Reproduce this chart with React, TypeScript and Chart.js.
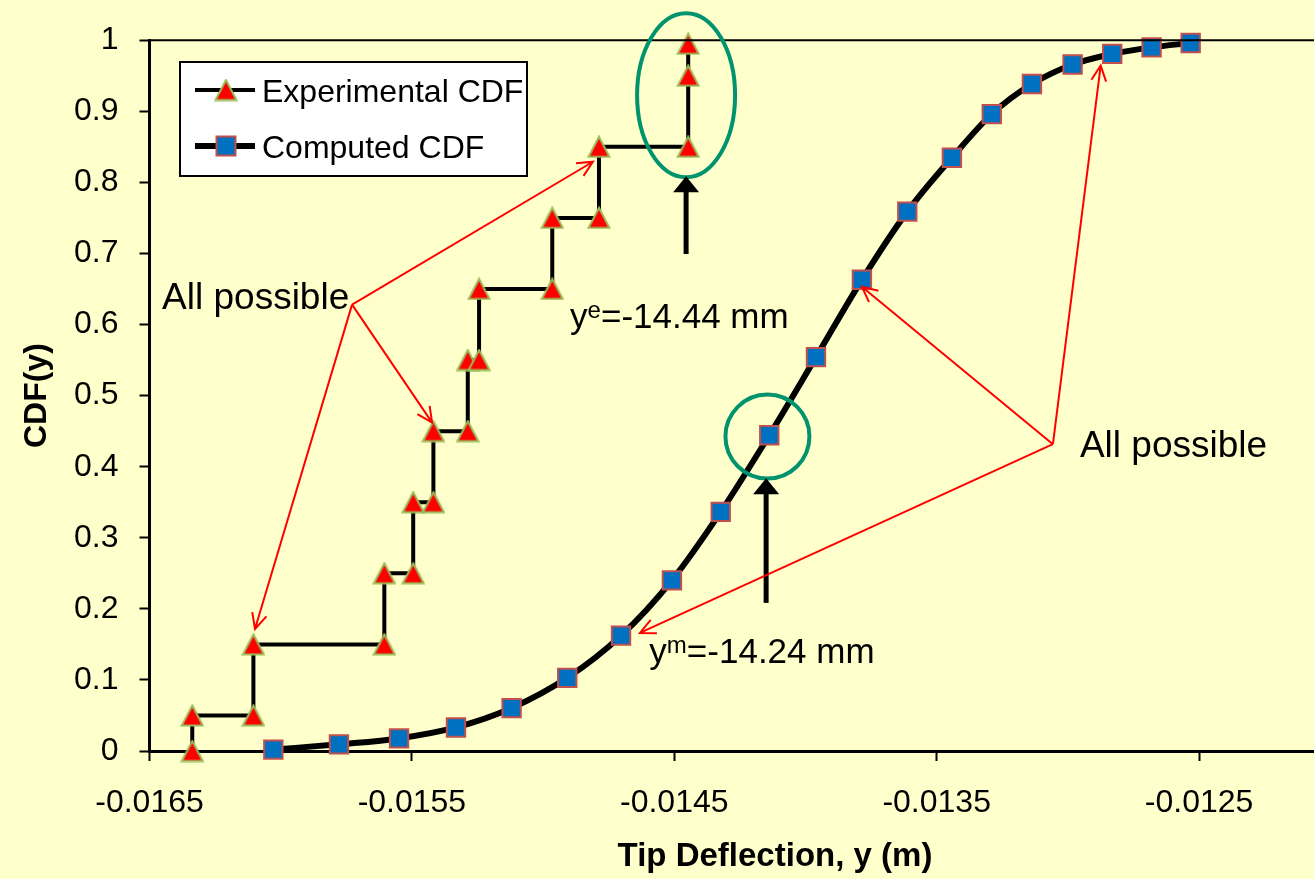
import { useEffect, useRef } from "react";
import { Chart, registerables } from "chart.js";
Chart.register(...registerables);

// ---------- data ----------
const xTicks = [-0.0165, -0.0155, -0.0145, -0.0135, -0.0125];
const yTicks = [0, 0.1, 0.2, 0.3, 0.4, 0.5, 0.6, 0.7, 0.8, 0.9, 1];
const xMin = -0.0165;
const xMax = -0.012062;
const yMin = 0;
const yMax = 1;

const seriesLabels = ["Experimental CDF", "Computed CDF"];
const xTitle = "Tip Deflection, y (m)";
const yTitle = "CDF(y)";

const expX = [
  -0.016337, -0.016337, -0.016104, -0.016104, -0.015605, -0.015605, -0.015495,
  -0.015495, -0.015418, -0.015418, -0.015287, -0.015287, -0.015244, -0.015244,
  -0.014965, -0.014965, -0.014787, -0.014787, -0.014447, -0.014447, -0.014447,
];
const expY = [
  0, 0.05, 0.05, 0.15, 0.15, 0.25, 0.25, 0.35, 0.35, 0.45, 0.45, 0.55, 0.55,
  0.65, 0.65, 0.75, 0.75, 0.85, 0.85, 0.95, 0.995,
];

const compX = [
  -0.016028, -0.015778, -0.015549, -0.015332, -0.01512, -0.014908, -0.014703,
  -0.014509, -0.014323, -0.014138, -0.01396, -0.013785, -0.013612, -0.013442,
  -0.01329, -0.013137, -0.012982, -0.012831, -0.012681, -0.012532,
];
const compY = [
  0.002, 0.0094, 0.0177, 0.0331, 0.0604, 0.1029, 0.1623, 0.2401, 0.3364,
  0.4442, 0.5541, 0.6629, 0.7588, 0.8346, 0.896, 0.9383, 0.9658, 0.9807,
  0.9899, 0.9961,
];

// ---------- annotations (data coordinates) ----------
const annoTextE = { x: -0.014897, y: 0.5946, main: "y", sup: "e", rest: "=-14.44 mm" };
const annoTextM = { x: -0.014595, y: 0.1242, main: "y", sup: "m", rest: "=-14.24 mm" };
const annoLeftLabel = { x: -0.016452, y: 0.6225, text: "All possible" };
const annoRightLabel = { x: -0.012954, y: 0.4131, text: "All possible" };
const ellipseE = { x: -0.014455, y: 0.9225 };
const circleM = { x: -0.014145, y: 0.4424 };
const arrowE = { x: -0.014455, y1: 0.6992, y2: 0.8085 };
const arrowM = { x: -0.01415, y1: 0.2084, y2: 0.3838 };
const leftAnchor = { x: -0.015728, y: 0.628 };
const leftTips = [
  { x: -0.01481, y: 0.829 },
  { x: -0.015423, y: 0.462 },
  { x: -0.016098, y: 0.1717 },
];
const rightAnchor = { x: -0.013057, y: 0.4317 };
const rightTips = [
  { x: -0.012875, y: 0.9644 },
  { x: -0.013785, y: 0.6532 },
  { x: -0.014631, y: 0.1661 },
];

const FONT = "'Liberation Sans', Arial, Helvetica, sans-serif";
const BG = "#FFFFCC";
const GREEN = "#00936E";

function makeTriangle(): HTMLCanvasElement {
  const c = document.createElement("canvas");
  c.width = 24;
  c.height = 23;
  const g = c.getContext("2d")!;
  g.beginPath();
  g.moveTo(12, 1.5);
  g.lineTo(22.5, 21.5);
  g.lineTo(1.5, 21.5);
  g.closePath();
  g.fillStyle = "#FF0000";
  g.fill();
  g.lineWidth = 2;
  g.strokeStyle = "#9BBB59";
  g.lineJoin = "miter";
  g.stroke();
  return c;
}

export default function App() {
  const ref = useRef<HTMLCanvasElement>(null);
  useEffect(() => {
    const canvas = ref.current!;
    const tri = makeTriangle();

    const overlay = {
      id: "overlay",
      afterDraw(chart: any) {
        const ctx: CanvasRenderingContext2D = chart.ctx;
        const xs = chart.scales.x;
        const ys = chart.scales.y;
        const ca = chart.chartArea;
        const px = (v: number) => xs.getPixelForValue(v);
        const py = (v: number) => ys.getPixelForValue(v);
        ctx.save();

        // top border
        ctx.strokeStyle = "#000";
        ctx.lineWidth = 2;
        ctx.beginPath();
        ctx.moveTo(ca.left, ca.top);
        ctx.lineTo(ca.right, ca.top);
        ctx.stroke();

        // legend
        ctx.fillStyle = "#FFFFFF";
        ctx.fillRect(180, 62, 347, 114);
        ctx.lineWidth = 2;
        ctx.strokeStyle = "#000";
        ctx.strokeRect(180, 62, 347, 114);
        const legY = [90, 146];
        const legW = [4, 6];
        for (let i = 0; i < 2; i++) {
          ctx.lineWidth = legW[i];
          ctx.strokeStyle = "#000";
          ctx.beginPath();
          ctx.moveTo(195, legY[i]);
          ctx.lineTo(255, legY[i]);
          ctx.stroke();
          if (i === 0) {
            ctx.drawImage(tri, 226 - tri.width / 2, legY[i] - tri.height / 2);
          } else {
            ctx.fillStyle = "#0070C0";
            ctx.fillRect(216.5, legY[i] - 9.5, 19, 19);
            ctx.lineWidth = 2;
            ctx.strokeStyle = "#C0504D";
            ctx.strokeRect(216.5, legY[i] - 9.5, 19, 19);
          }
          ctx.fillStyle = "#000";
          ctx.font = `32px ${FONT}`;
          ctx.textAlign = "left";
          ctx.textBaseline = "alphabetic";
          ctx.fillText(seriesLabels[i], 262, legY[i] + 11.5);
        }

        // green ellipse & circle
        ctx.strokeStyle = GREEN;
        ctx.lineWidth = 4;
        ctx.beginPath();
        ctx.ellipse(px(ellipseE.x), py(ellipseE.y), 49, 82, 0, 0, Math.PI * 2);
        ctx.stroke();
        ctx.beginPath();
        ctx.arc(px(circleM.x), py(circleM.y), 42, 0, Math.PI * 2);
        ctx.stroke();

        // black arrows
        const blackArrow = (x: number, y1: number, y2: number) => {
          ctx.strokeStyle = "#000";
          ctx.fillStyle = "#000";
          ctx.lineWidth = 5;
          ctx.beginPath();
          ctx.moveTo(x, y1);
          ctx.lineTo(x, y2 + 12);
          ctx.stroke();
          ctx.beginPath();
          ctx.moveTo(x, y2);
          ctx.lineTo(x + 13, y2 + 16);
          ctx.lineTo(x - 13, y2 + 16);
          ctx.closePath();
          ctx.fill();
        };
        blackArrow(px(arrowE.x), py(arrowE.y1), py(arrowE.y2));
        blackArrow(px(arrowM.x), py(arrowM.y1), py(arrowM.y2));

        // red arrows
        const redArrow = (x1: number, y1: number, x2: number, y2: number) => {
          ctx.strokeStyle = "#FF0000";
          ctx.lineWidth = 2;
          ctx.beginPath();
          ctx.moveTo(x1, y1);
          ctx.lineTo(x2, y2);
          const a = Math.atan2(y2 - y1, x2 - x1);
          const L = 17;
          const s = 0.45;
          ctx.moveTo(x2 - L * Math.cos(a - s), y2 - L * Math.sin(a - s));
          ctx.lineTo(x2, y2);
          ctx.lineTo(x2 - L * Math.cos(a + s), y2 - L * Math.sin(a + s));
          ctx.stroke();
        };
        for (const t of leftTips)
          redArrow(px(leftAnchor.x), py(leftAnchor.y), px(t.x), py(t.y));
        for (const t of rightTips)
          redArrow(px(rightAnchor.x), py(rightAnchor.y), px(t.x), py(t.y));

        // texts
        ctx.fillStyle = "#000";
        ctx.textAlign = "left";
        ctx.textBaseline = "alphabetic";
        ctx.font = `37px ${FONT}`;
        ctx.fillText(annoLeftLabel.text, px(annoLeftLabel.x), py(annoLeftLabel.y));
        ctx.fillText(annoRightLabel.text, px(annoRightLabel.x), py(annoRightLabel.y));

        const supText = (t: any) => {
          let x = px(t.x);
          const y = py(t.y);
          ctx.font = `35px ${FONT}`;
          ctx.fillText(t.main, x, y);
          x += ctx.measureText(t.main).width;
          ctx.font = `24px ${FONT}`;
          ctx.fillText(t.sup, x, y - 10);
          x += ctx.measureText(t.sup).width;
          ctx.font = `35px ${FONT}`;
          ctx.fillText(t.rest, x, y);
        };
        supText(annoTextE);
        supText(annoTextM);

        // axis titles
        ctx.font = `bold 33px ${FONT}`;
        ctx.textAlign = "center";
        ctx.fillText(xTitle, 775, 866);
        ctx.save();
        ctx.translate(46, (ca.top + ca.bottom) / 2);
        ctx.rotate(-Math.PI / 2);
        ctx.font = `bold 32px ${FONT}`;
        ctx.textAlign = "center";
        ctx.fillText(yTitle, 0, 0);
        ctx.restore();

        ctx.restore();
      },
    };

    const chart = new Chart(canvas, {
      type: "scatter",
      data: {
        datasets: [
          {
            label: seriesLabels[0],
            data: expX.map((x, i) => ({ x, y: expY[i] })),
            showLine: true,
            borderColor: "#000",
            borderWidth: 4,
            pointStyle: tri as any,
            pointRadius: 12,
            pointHoverRadius: 12,
            tension: 0,
            clip: false as any,
          },
          {
            label: seriesLabels[1],
            data: compX.map((x, i) => ({ x, y: compY[i] })),
            showLine: true,
            borderColor: "#000",
            borderWidth: 6,
            pointStyle: "rect",
            pointRadius: 13,
            pointHoverRadius: 13,
            pointBackgroundColor: "#0070C0",
            pointBorderColor: "#C0504D",
            pointBorderWidth: 2,
            cubicInterpolationMode: "monotone",
            clip: false as any,
          },
        ],
      },
      options: {
        responsive: false,
        animation: false,
        events: [],
        layout: { autoPadding: false, padding: { top: 34.5, left: 0, right: 0, bottom: 0 } },
        plugins: {
          legend: { display: false },
          tooltip: { enabled: false },
          title: { display: false },
        },
        scales: {
          x: {
            type: "linear",
            min: xMin,
            max: xMax,
            afterBuildTicks: (s: any) => {
              s.ticks = xTicks.map((v) => ({ value: v }));
            },
            afterFit: (s: any) => {
              s.height = 128;
            },
            grid: {
              drawOnChartArea: false,
              drawTicks: true,
              tickLength: 10,
              tickWidth: 2,
              tickColor: "#000",
            },
            border: { display: true, color: "#000", width: 3 },
            ticks: {
              color: "#000",
              font: { family: FONT, size: 32 },
              padding: 23,
              maxRotation: 0,
              autoSkip: false,
              callback: (v: any) => Number(v).toFixed(4),
            },
          },
          y: {
            type: "linear",
            min: yMin,
            max: yMax,
            afterBuildTicks: (s: any) => {
              s.ticks = yTicks.map((v) => ({ value: v }));
            },
            afterFit: (s: any) => {
              s.width = 149.5;
            },
            grid: {
              drawOnChartArea: false,
              drawTicks: true,
              tickLength: 10,
              tickWidth: 2,
              tickColor: "#000",
            },
            border: { display: true, color: "#000", width: 3 },
            ticks: {
              color: "#000",
              font: { family: FONT, size: 32 },
              padding: 21,
              autoSkip: false,
              callback: (v: any) => String(Number(v)),
            },
          },
        },
      },
      plugins: [overlay],
    });
    return () => chart.destroy();
  }, []);

  return (
    <div
      style={{
        position: "absolute",
        left: 0,
        top: 0,
        width: 1314,
        height: 879,
        background: BG,
        overflow: "hidden",
      }}
    >
      <canvas ref={ref} width={1314} height={879} style={{ display: "block" }} />
    </div>
  );
}
